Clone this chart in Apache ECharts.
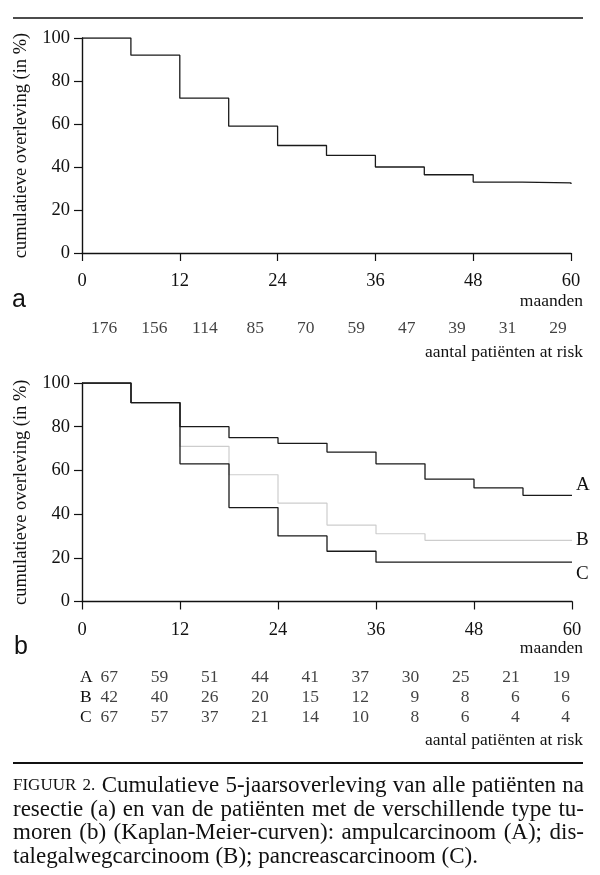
<!DOCTYPE html>
<html>
<head>
<meta charset="utf-8">
<script src="https://cdn.jsdelivr.net/npm/echarts@6/dist/echarts.min.js"></script>
<style>
html,body{margin:0;padding:0;background:#fff;}
#chart{width:600px;height:875px;}
</style>
</head>
<body>
<div id="chart"></div>
<script>
// ---- data ----
const months = [0, 6, 12, 18, 24, 30, 36, 42, 48, 54, 60];
const survivalAll = [100, 92, 72, 59, 50, 45.4, 40, 36.4, 33, 32.6, 32.1];
const survivalA = [100, 91, 80, 75, 72.4, 68.4, 63, 56, 52, 48.6, 48.4];
const survivalB = [100, 91, 71, 58, 45, 35, 31, 28, 28, 28, 28];
const survivalC = [100, 91, 63, 43, 30, 23, 18, 18, 18, 18, 17.9];
const atRiskAll = [176, 156, 114, 85, 70, 59, 47, 39, 31, 29];
const atRiskA = [67, 59, 51, 44, 41, 37, 30, 25, 21, 19];
const atRiskB = [42, 40, 26, 20, 15, 12, 9, 8, 6, 6];
const atRiskC = [67, 57, 37, 21, 14, 10, 8, 6, 4, 4];
const groupNames = ['A', 'B', 'C'];
const yAxisTitle = 'cumulatieve overleving (in %)';
const xAxisTitle = 'maanden';
const riskTitle = 'aantal patiënten at risk';
const captionLines = [
  {sc: 'FIGUUR 2.', text: 'Cumulatieve 5-jaarsoverleving van alle patiënten na', justify: true},
  {sc: '', text: 'resectie (a) en van de patiënten met de verschillende type tu-', justify: true},
  {sc: '', text: 'moren (b) (Kaplan-Meier-curven): ampulcarcinoom (A); dis-', justify: true},
  {sc: '', text: 'talegalwegcarcinoom (B); pancreascarcinoom (C).', justify: false}
];

// ---- helpers ----
const SERIF = 'Liberation Serif';
const pairs = (ys) => months.map((m, i) => [m, ys[i]]);
const gridTop = {left: 82, right: 29, top: 38, height: 215};
const gridBot = {left: 82, right: 28, top: 383, height: 218.5};

function xAxisDef(gi) {
  return {
    type: 'value', gridIndex: gi, min: 0, max: 60, interval: 12,
    axisLine: {show: true, lineStyle: {color: '#111', width: 1.4}},
    axisTick: {show: true, inside: false, length: 8, lineStyle: {color: '#111', width: 1.2}},
    axisLabel: {show: true, color: '#111', fontFamily: SERIF, fontSize: 18.5, margin: 19},
    splitLine: {show: false}
  };
}
function yAxisDef(gi) {
  return {
    type: 'value', gridIndex: gi, min: 0, max: 100, interval: 20,
    name: yAxisTitle, nameLocation: 'middle', nameRotate: 90, nameGap: 51,
    nameTextStyle: {color: '#111', fontFamily: SERIF, fontSize: 18.5},
    axisLine: {show: true, lineStyle: {color: '#111', width: 1.4}},
    axisTick: {show: true, inside: false, length: 8, lineStyle: {color: '#111', width: 1.2}},
    axisLabel: {show: true, color: '#111', fontFamily: SERIF, fontSize: 18.5, margin: 12},
    splitLine: {show: false}
  };
}
function tableX(gi) {
  return {type: 'value', gridIndex: gi, min: 0, max: 9, show: false};
}
function tableY(gi, cats, showLabels) {
  return {
    type: 'category', gridIndex: gi, data: cats, inverse: true,
    axisLine: {show: false}, axisTick: {show: false}, splitLine: {show: false},
    axisLabel: {show: showLabels, interval: 0, hideOverlap: false, align: 'left', margin: 38,
      color: '#111', fontFamily: SERIF, fontSize: 17.5}
  };
}
function tableSeries(xi, yi, rows, align) {
  const data = [];
  rows.forEach((row, r) => row.forEach((v, i) => data.push([i, r, v])));
  return {
    type: 'scatter', xAxisIndex: xi, yAxisIndex: yi, symbolSize: 0, silent: true,
    data: data,
    label: {
      show: true, formatter: p => String(p.value[2]),
      position: align === 'right' ? 'left' : 'inside', distance: 0,
      align: align === 'right' ? 'right' : 'center', verticalAlign: 'middle',
      color: '#111', fontFamily: SERIF, fontSize: 17.5
    },
    labelLayout: {hideOverlap: false}
  };
}
function curve(xi, yi, name, ys, color, width, z, labelOffset) {
  const s = {
    type: 'line', name: name, xAxisIndex: xi, yAxisIndex: yi, data: pairs(ys),
    step: 'end', showSymbol: false, symbol: 'none', z: z,
    lineStyle: {color: color, width: width}
  };
  if (labelOffset) {
    s.endLabel = {show: true, formatter: name, color: '#111', fontFamily: SERIF, fontSize: 19,
      distance: 4, offset: labelOffset};
  }
  return s;
}

const chart = echarts.init(document.getElementById('chart'), null, {renderer: 'canvas'});

const graphicTexts = [];
function txt(x, y, text, opts) {
  graphicTexts.push({
    type: 'text', x: x, y: y,
    style: Object.assign({text: text, fill: '#111', font: '18px "' + SERIF + '"', textVerticalAlign: 'middle'}, opts || {})
  });
}
// rules
graphicTexts.push({type: 'line', shape: {x1: 13, y1: 18, x2: 583, y2: 18}, style: {stroke: '#111', lineWidth: 1.6}});
graphicTexts.push({type: 'line', shape: {x1: 13, y1: 763, x2: 583, y2: 763}, style: {stroke: '#111', lineWidth: 2}});
// titles
const titleFont = '17.5px "' + SERIF + '"';
txt(583, 301, xAxisTitle, {textAlign: 'right', font: titleFont});
txt(583, 352, riskTitle, {textAlign: 'right', font: titleFont});
txt(583, 648, xAxisTitle, {textAlign: 'right', font: titleFont});
txt(583, 740, riskTitle, {textAlign: 'right', font: titleFont});
txt(12, 300, 'a', {font: '25px "Liberation Sans"'});
txt(14, 647, 'b', {font: '25px "Liberation Sans"'});

// caption, justified like the print
const capY = [786, 809.5, 833, 856.5];
const capLeft = 13, capRight = 584;
const normalFont = '23px "' + SERIF + '"';
const scFont = '17px "' + SERIF + '"';
const mctx = document.createElement('canvas').getContext('2d');
function measure(t, f) { mctx.font = f; return mctx.measureText(t).width; }
captionLines.forEach((line, i) => {
  const words = [];
  if (line.sc) line.sc.split(' ').forEach(w => words.push({t: w, f: scFont}));
  line.text.split(' ').forEach(w => words.push({t: w, f: normalFont}));
  const widths = words.map(w => measure(w.t, w.f));
  const total = widths.reduce((a, b) => a + b, 0);
  const natural = measure(' ', normalFont);
  let gap = line.justify ? (capRight - capLeft - total) / (words.length - 1) : natural;
  let x = capLeft;
  words.forEach((w, k) => {
    graphicTexts.push({type: 'text', x: x, y: capY[i],
      style: {text: w.t, font: w.f, fill: '#111', textVerticalAlign: 'middle'}});
    x += widths[k] + gap;
  });
});

const option = {
  backgroundColor: '#fff',
  animation: false,
  grid: [
    gridTop,
    gridBot,
    {left: 104, right: 42, top: 318, height: 20},
    {left: 118, right: 30, top: 667, height: 60}
  ],
  xAxis: [xAxisDef(0), xAxisDef(1), tableX(2), tableX(3)],
  yAxis: [yAxisDef(0), yAxisDef(1), tableY(2, ['all'], false), tableY(3, groupNames, true)],
  series: [
    curve(0, 0, 'all', survivalAll, '#1a1a1a', 1.3, 3, null),
    curve(1, 1, 'B', survivalB, '#cdcdcd', 1.2, 2, [0, 0]),
    curve(1, 1, 'A', survivalA, '#1a1a1a', 1.3, 3, [0, -11]),
    curve(1, 1, 'C', survivalC, '#1a1a1a', 1.3, 3, [0, 12]),
    tableSeries(2, 2, [atRiskAll], 'center'),
    tableSeries(3, 3, [atRiskA, atRiskB, atRiskC], 'right')
  ],
  graphic: graphicTexts
};
chart.setOption(option);
</script>
</body>
</html>
